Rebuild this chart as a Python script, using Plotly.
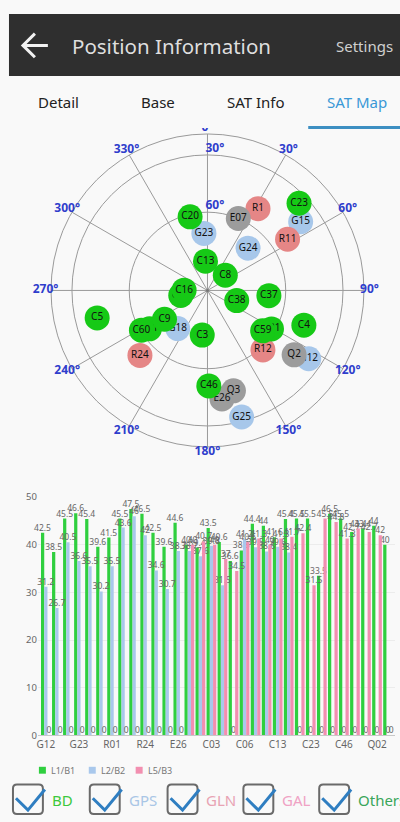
import numpy as np
import plotly.graph_objects as go

W, H = 400, 822

# ---- sky plot: azimuth (deg) and elevation (deg) per system
gps_prn = ["G12", "G15", "G18", "G23", "G24", "G25"]
gps_az = [124.0, 53.6, 218.0, 356.4, 43.8, 164.9]
gps_el = [38.7, 42.3, 72.0, 68.6, 68.0, 33.1]

gln_prn = ["R1", "R11", "R12", "R24"]
gln_az = [31.7, 57.4, 137.0, 226.1]
gln_el = [52.1, 52.6, 58.7, 53.2]

oth_prn = ["E26", "E07", "Q2", "Q3"]
oth_az = [172.4, 23.2, 126.6, 165.5]
oth_el = [45.6, 60.0, 46.4, 48.5]

# BD satellites partly hidden under others
bd_back_prn = ["C14", "C11", "C21"]
bd_back_az = [259.5, 236.5, 121.0]
bd_back_el = [80.0, 63.6, 61.5]

bd_prn = ["C20", "C23", "C13", "C8", "C16", "C38", "C37", "C5", "C9", "C60", "C3", "C59", "C4", "C46"]
bd_az = [346.7, 46.4, 356.1, 49.6, 270.7, 109.1, 94.9, 256.0, 236.2, 239.0, 186.7, 126.2, 109.8, 179.2]
bd_el = [61.1, 36.1, 79.2, 81.4, 81.4, 78.6, 66.8, 43.4, 70.7, 60.5, 73.3, 64.1, 49.1, 52.4]

az_ticks = list(range(0, 360, 30))
elev_rings = [30, 60]

# ---- signal strength (dB-Hz) per satellite
sat_ids = ["G12", "G15", "G18", "G23", "G24", "G25", "R01", "R11", "R12", "R24", "E07", "E13",
           "E26", "E33", "C01", "C03", "C04", "C05", "C06", "C08", "C09", "C13", "C16", "C20",
           "C23", "C37", "C38", "C46", "C59", "C60", "Q02", "Q03"]
snr_l1 = [42.5, 38.5, 45.5, 46.6, 45.4, 39.6, 41.5, 45.5, 47.5, 46.5, 42.5, 39.6, 44.6, 40.0, 39.4, 43.5,
          40.6, 36.6, 38.8, 44.4, 44.0, 41.6, 45.4, 45.5, 45.5, 33.5, 46.5, 45.5, 42.7, 43.4, 44.0, 40.0]
snr_l2 = [31.2, 26.7, 40.5, 36.6, 35.5, 30.2, 35.5, 43.6, 46.0, 42.0, 34.6, 30.7, 38.7, 38.7, 37.6, 39.8,
          31.5, 0, 41.2, 39.5, 38.6, 39.6, 38.4, 0, 0, 0, 0, 0, 0, 0, 0, 0]
snr_l5 = [0, 0, 0, 0, 0, 0, 0, 0, 0, 0, 0, 0, 0, 40.0, 40.7, 40.0,
          37.0, 34.5, 40.6, 41.3, 40.0, 41.3, 41.7, 42.4, 31.5, 45.5, 44.8, 41.3, 43.4, 42.7, 42.0, 0]

band_names = ["L1/B1", "L2/B2", "L5/B3"]
band_colors = ["#2fcf3f", "#a9c8ec", "#f28fb0"]


def X(x):
    return x / W


def Y(y):
    return 1 - y / H


def r_of(el):
    return np.cos(np.radians(el))


fig = go.Figure()

# spokes every 30 degrees, from centre to horizon ring
spoke_r, spoke_t = [], []
for a in az_ticks:
    spoke_r += [0, 1, None]
    spoke_t += [a, a, None]
fig.add_trace(go.Scatterpolar(r=spoke_r, theta=spoke_t, mode="lines",
                              line=dict(color="#9a9a9a", width=1), showlegend=False))

for prn, az, el, col in [
    (gps_prn, gps_az, gps_el, "#a7c7ea"),
    (gln_prn, gln_az, gln_el, "#e58686"),
    (oth_prn, oth_az, oth_el, "#9c9c9c"),
    (bd_back_prn, bd_back_az, bd_back_el, "#16c916"),
    (bd_prn, bd_az, bd_el, "#16c916"),
]:
    fig.add_trace(go.Scatterpolar(
        r=r_of(el), theta=az, text=prn, mode="markers+text",
        marker=dict(size=25, color=col, line=dict(width=0)),
        textfont=dict(size=10, color="#111111"), textposition="middle center",
        showlegend=False, cliponaxis=False))

# centre dot
fig.add_trace(go.Scatterpolar(r=[0], theta=[0], mode="markers",
                              marker=dict(size=3, color="#777"), showlegend=False))

# azimuth labels
fig.add_trace(go.Scatterpolar(
    r=[1.035] * len(az_ticks), theta=az_ticks, mode="text",
    text=[f"{a}°" for a in az_ticks],
    textfont=dict(size=12, color="#2f3dcc", weight="bold"),
    showlegend=False, cliponaxis=False))

# elevation labels
fig.add_trace(go.Scatterpolar(
    r=r_of(np.array(elev_rings)) + 0.04, theta=[3, 5], mode="text",
    text=[f"{e}°" for e in elev_rings],
    textfont=dict(size=12, color="#2f3dcc", weight="bold"),
    showlegend=False, cliponaxis=False))

for name, vals, col in zip(band_names, [snr_l1, snr_l2, snr_l5], band_colors):
    fig.add_trace(go.Bar(
        x=sat_ids, y=vals, name=name, marker=dict(color=col, line=dict(width=0)),
        text=[f"{v:g}" for v in vals], textposition="outside",
        textfont=dict(size=8.5, color="#666666"), constraintext="none",
        cliponaxis=False, showlegend=False, xaxis="x", yaxis="y"))

shapes = []
annotations = []


def note(text, x, y, size, color, anchor="left"):
    annotations.append(dict(text=text, x=X(x), y=Y(y), xref="paper", yref="paper",
                            xanchor=anchor, yanchor="middle", showarrow=False,
                            font=dict(size=size, color=color)))


# header bar and tabs
shapes.append(dict(type="rect", xref="paper", yref="paper", x0=X(8), x1=X(400), y0=Y(70), y1=Y(7),
                   fillcolor="#2f2f2f", line=dict(width=0), layer="above"))
shapes.append(dict(type="rect", xref="paper", yref="paper", x0=X(0), x1=X(400), y0=Y(123), y1=Y(70),
                   fillcolor="#f9f9f9", line=dict(width=0), layer="above"))
shapes.append(dict(type="path", xref="paper", yref="paper",
                   path=f"M{X(47)},{Y(39)} L{X(23)},{Y(39)} M{X(34)},{Y(27)} L{X(22)},{Y(39)} L{X(34)},{Y(51)}",
                   line=dict(color="#f2f2f2", width=3), layer="above"))
shapes.append(dict(type="rect", xref="paper", yref="paper", x0=X(308), x1=X(400), y0=Y(124), y1=Y(121),
                   fillcolor="#3d8fc2", line=dict(width=0), layer="above"))

note("Position Information", 69, 40, 20.5, "#dedede")
note("Settings", 334, 40, 15, "#d0d0d0")
for label, cx, col in [("Detail", 58, "#222"), ("Base", 157, "#222"), ("SAT Info", 256, "#222"),
                       ("SAT Map", 357, "#3a98d6")]:
    note(label, cx, 97, 15, col, "center")

# bar legend
for lx, name, col in zip([38, 88, 135], band_names, band_colors):
    shapes.append(dict(type="rect", xref="paper", yref="paper", x0=X(lx), x1=X(lx + 7),
                       y0=Y(779), y1=Y(772), fillcolor=col, line=dict(width=0)))
    note(name, lx + 10, 775.5, 9, "#777")


def rounded(x0, y0, x1, y1, r):
    p = [f"M{X(x0 + r)},{Y(y0)}", f"L{X(x1 - r)},{Y(y0)}", f"Q{X(x1)},{Y(y0)} {X(x1)},{Y(y0 + r)}",
         f"L{X(x1)},{Y(y1 - r)}", f"Q{X(x1)},{Y(y1)} {X(x1 - r)},{Y(y1)}", f"L{X(x0 + r)},{Y(y1)}",
         f"Q{X(x0)},{Y(y1)} {X(x0)},{Y(y1 - r)}", f"L{X(x0)},{Y(y0 + r)}",
         f"Q{X(x0)},{Y(y0)} {X(x0 + r)},{Y(y0)}", "Z"]
    return " ".join(p)


# system check boxes
for bx, label, col in [(12, "BD", "#3cc83c"), (89, "GPS", "#a9c6e6"), (167, "GLN", "#e8a3b3"),
                       (243, "GAL", "#f0a2c4"), (319, "Others", "#3aa65a")]:
    shapes.append(dict(type="path", xref="paper", yref="paper", path=rounded(bx, 790, bx + 30, 820, 4),
                       line=dict(color="#6a6a6a", width=2)))
    shapes.append(dict(type="path", xref="paper", yref="paper",
                       path=f"M{X(bx + 3)},{Y(804)} L{X(bx + 15)},{Y(816)} L{X(bx + 32)},{Y(795)}",
                       line=dict(color="#2f7ec1", width=3)))
    note(label, bx + 37, 806, 15, col)

R_PX = 159 * 1.06
fig.update_layout(
    width=W, height=H, margin=dict(l=0, r=0, t=0, b=0),
    paper_bgcolor="#f9f9f9", plot_bgcolor="#f9f9f9",
    font=dict(family="Noto Sans", color="#333"),
    polar=dict(
        domain=dict(x=[X(207 - R_PX), X(207 + R_PX)], y=[Y(288 + R_PX), Y(288 - R_PX)]),
        bgcolor="rgba(0,0,0,0)",
        angularaxis=dict(rotation=90, direction="clockwise", tickmode="array", tickvals=az_ticks,
                         showticklabels=False, ticks="", showline=False, showgrid=False),
        radialaxis=dict(range=[0, 1.06], tickvals=list(r_of(np.array(elev_rings))) + [1.0],
                        showticklabels=False, ticks="", showline=False,
                        gridcolor="#9a9a9a", gridwidth=1),
    ),
    xaxis=dict(domain=[X(37), X(395)], range=[-0.72, 31.63], type="category",
               tickmode="array", tickvals=sat_ids[::3], ticktext=sat_ids[::3],
               tickfont=dict(size=10, color="#666"), showline=True, linecolor="#c8c8c8",
               showgrid=False, ticks="", anchor="y"),
    yaxis=dict(domain=[Y(740), Y(498)], range=[0, 50], tickvals=[0, 10, 20, 30, 40, 50],
               tickfont=dict(size=9.5, color="#666"), gridcolor="#ececec", zeroline=False,
               showline=False, ticks="", anchor="x"),
    barmode="group", bargap=0.12, bargroupgap=0,
    shapes=shapes, annotations=annotations,
)

fig.write_html("out.html", config={"displayModeBar": False},
               post_script="document.body.style.margin='0';document.body.style.overflow='hidden';")
